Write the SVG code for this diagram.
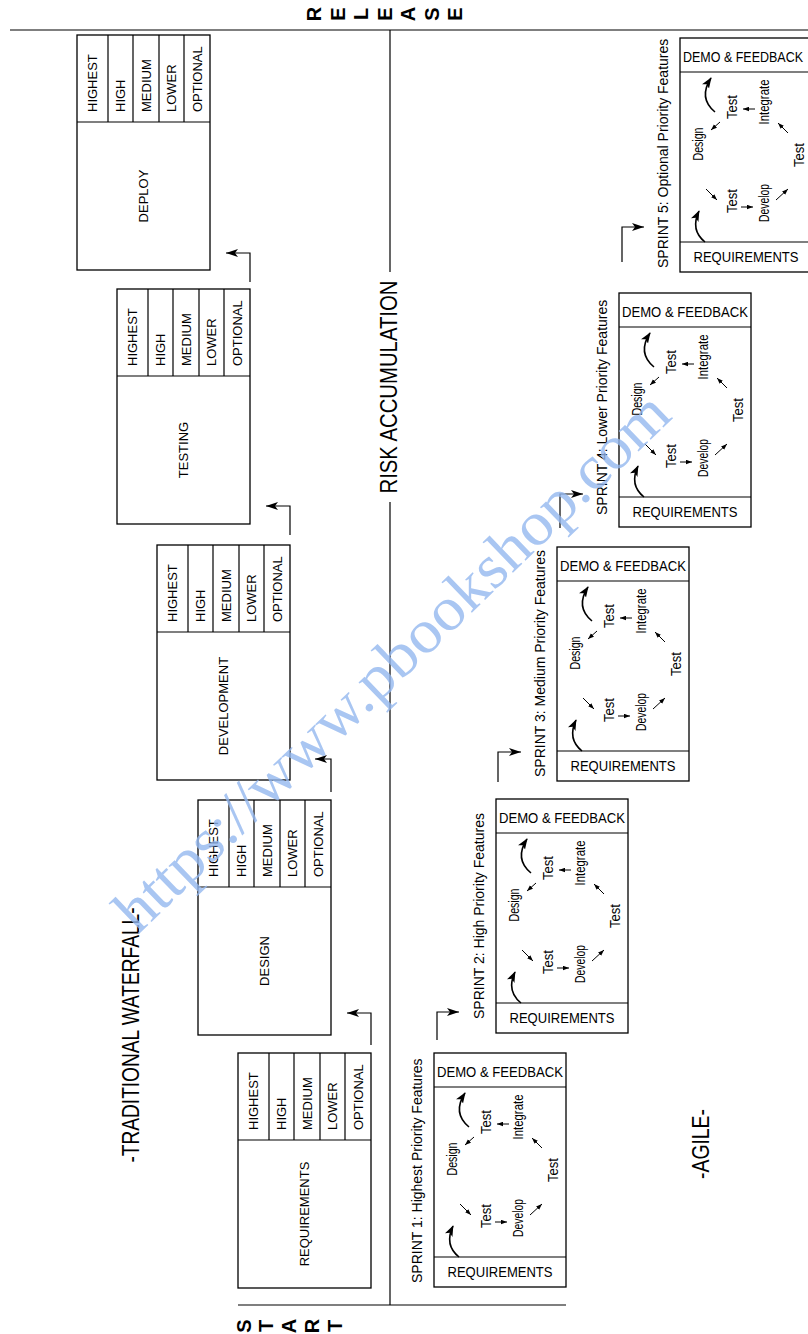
<svg xmlns="http://www.w3.org/2000/svg" width="808" height="1334" viewBox="0 0 808 1334">
<defs>
<style>
.bx{fill:#fff;stroke:#000;stroke-width:1.3}
.ln{fill:none;stroke:#000;stroke-width:1.2}
.sa{fill:none;stroke:#000;stroke-width:1}
.cv{fill:none;stroke:#000;stroke-width:1.6}
.t{font-family:"Liberation Sans",Arial,sans-serif;fill:#000}
.s13{font-size:13px}
.s14{font-size:14px}
.cy{font-size:15px}
.big{font-size:24px}
.wm{font-family:"Liberation Serif","Times New Roman",serif;font-size:62px;fill:#94b8f0;opacity:0.8}
</style>
<marker id="ah" viewBox="0 0 12 8" refX="12" refY="4" markerWidth="12" markerHeight="8" markerUnits="userSpaceOnUse" orient="auto"><path d="M0,0 L12,4 L0,8 L3,4 z" fill="#000"/></marker>
<marker id="sm" viewBox="0 0 8 6" refX="8" refY="3" markerWidth="6" markerHeight="5" markerUnits="userSpaceOnUse" orient="auto"><path d="M0,0 L8,3 L0,6 z" fill="#000"/></marker>
<marker id="cvh" viewBox="0 0 12 9" refX="11" refY="4.5" markerWidth="11" markerHeight="9" markerUnits="userSpaceOnUse" orient="auto"><path d="M0,0 L12,4.5 L0,9 L3,4.5 z" fill="#000"/></marker>
</defs>
<rect width="808" height="1334" fill="#fff"/>

<g id="frame">
<line class="ln" x1="10" y1="30" x2="808" y2="30"/>
<line class="ln" x1="238" y1="1305" x2="566" y2="1305"/>
<line class="ln" x1="390" y1="30" x2="390" y2="272"/>
<line class="ln" x1="390" y1="502" x2="390" y2="1305"/>
<text class="t big" transform="translate(397,387) rotate(-90)" text-anchor="middle" textLength="213" lengthAdjust="spacingAndGlyphs">RISK ACCUMULATION</text>
<text class="t big" transform="translate(139,1035) rotate(-90)" text-anchor="middle" textLength="255" lengthAdjust="spacingAndGlyphs">-TRADITIONAL WATERFALL-</text>
<text class="t big" transform="translate(709,1144) rotate(-90)" text-anchor="middle" textLength="70" lengthAdjust="spacingAndGlyphs">-AGILE-</text>
<g class="t" font-size="20" font-weight="bold" text-anchor="middle">
<text transform="translate(321,14) rotate(-90)">R</text>
<text transform="translate(345,14) rotate(-90)">E</text>
<text transform="translate(368,14) rotate(-90)">L</text>
<text transform="translate(392,14) rotate(-90)">E</text>
<text transform="translate(415,14) rotate(-90)">A</text>
<text transform="translate(439,14) rotate(-90)">S</text>
<text transform="translate(462,14) rotate(-90)">E</text>
<text transform="translate(251,1326) rotate(-90)">S</text>
<text transform="translate(273,1326) rotate(-90)">T</text>
<text transform="translate(296,1326) rotate(-90)">A</text>
<text transform="translate(319,1326) rotate(-90)">R</text>
<text transform="translate(342,1326) rotate(-90)">T</text>
</g>
</g>

<g id="wf-requirements" transform="translate(238,1053)">
<rect class="bx" width="133" height="235"/>
<path class="ln" d="M0,87 H133 M31,0 V87 M56,0 V87 M82,0 V87 M107,0 V87"/>
<g class="t s13">
<text transform="translate(20,77) rotate(-90)">HIGHEST</text>
<text transform="translate(48,77) rotate(-90)">HIGH</text>
<text transform="translate(73.5,77) rotate(-90)">MEDIUM</text>
<text transform="translate(99,77) rotate(-90)">LOWER</text>
<text transform="translate(124.5,77) rotate(-90)">OPTIONAL</text>
<text transform="translate(71,161) rotate(-90)" text-anchor="middle">REQUIREMENTS</text>
</g>
</g>
<g id="wf-design" transform="translate(198,800)">
<rect class="bx" width="133" height="235"/>
<path class="ln" d="M0,87 H133 M31,0 V87 M56,0 V87 M82,0 V87 M107,0 V87"/>
<g class="t s13">
<text transform="translate(20,77) rotate(-90)">HIGHEST</text>
<text transform="translate(48,77) rotate(-90)">HIGH</text>
<text transform="translate(73.5,77) rotate(-90)">MEDIUM</text>
<text transform="translate(99,77) rotate(-90)">LOWER</text>
<text transform="translate(124.5,77) rotate(-90)">OPTIONAL</text>
<text transform="translate(71,161) rotate(-90)" text-anchor="middle">DESIGN</text>
</g>
</g>
<g id="wf-development" transform="translate(157,545)">
<rect class="bx" width="133" height="235"/>
<path class="ln" d="M0,87 H133 M31,0 V87 M56,0 V87 M82,0 V87 M107,0 V87"/>
<g class="t s13">
<text transform="translate(20,77) rotate(-90)">HIGHEST</text>
<text transform="translate(48,77) rotate(-90)">HIGH</text>
<text transform="translate(73.5,77) rotate(-90)">MEDIUM</text>
<text transform="translate(99,77) rotate(-90)">LOWER</text>
<text transform="translate(124.5,77) rotate(-90)">OPTIONAL</text>
<text transform="translate(71,161) rotate(-90)" text-anchor="middle">DEVELOPMENT</text>
</g>
</g>
<g id="wf-testing" transform="translate(117,289)">
<rect class="bx" width="133" height="235"/>
<path class="ln" d="M0,87 H133 M31,0 V87 M56,0 V87 M82,0 V87 M107,0 V87"/>
<g class="t s13">
<text transform="translate(20,77) rotate(-90)">HIGHEST</text>
<text transform="translate(48,77) rotate(-90)">HIGH</text>
<text transform="translate(73.5,77) rotate(-90)">MEDIUM</text>
<text transform="translate(99,77) rotate(-90)">LOWER</text>
<text transform="translate(124.5,77) rotate(-90)">OPTIONAL</text>
<text transform="translate(71,161) rotate(-90)" text-anchor="middle">TESTING</text>
</g>
</g>
<g id="wf-deploy" transform="translate(77,35)">
<rect class="bx" width="133" height="235"/>
<path class="ln" d="M0,87 H133 M31,0 V87 M56,0 V87 M82,0 V87 M107,0 V87"/>
<g class="t s13">
<text transform="translate(20,77) rotate(-90)">HIGHEST</text>
<text transform="translate(48,77) rotate(-90)">HIGH</text>
<text transform="translate(73.5,77) rotate(-90)">MEDIUM</text>
<text transform="translate(99,77) rotate(-90)">LOWER</text>
<text transform="translate(124.5,77) rotate(-90)">OPTIONAL</text>
<text transform="translate(71,161) rotate(-90)" text-anchor="middle">DEPLOY</text>
</g>
</g>

<g id="sprint1" transform="translate(434,1053)">
<rect class="bx" width="132" height="234"/>
<path class="ln" d="M0,34 H132 M0,204 H132"/>
<g class="t s14" text-anchor="middle">
<text x="66" y="24" textLength="126" lengthAdjust="spacingAndGlyphs">DEMO &amp; FEEDBACK</text>
<text x="66" y="224" textLength="105" lengthAdjust="spacingAndGlyphs">REQUIREMENTS</text>
</g>
<g class="t cy" text-anchor="middle">
<text transform="translate(57,69) rotate(-90)" textLength="24" lengthAdjust="spacingAndGlyphs">Test</text>
<text transform="translate(89,64) rotate(-90)" textLength="45" lengthAdjust="spacingAndGlyphs">Integrate</text>
<text transform="translate(23,106) rotate(-90)" textLength="33" lengthAdjust="spacingAndGlyphs">Design</text>
<text transform="translate(124,117) rotate(-90)" textLength="24" lengthAdjust="spacingAndGlyphs">Test</text>
<text transform="translate(57,163) rotate(-90)" textLength="24" lengthAdjust="spacingAndGlyphs">Test</text>
<text transform="translate(89,165) rotate(-90)" textLength="38" lengthAdjust="spacingAndGlyphs">Develop</text>
</g>
<g class="sa" marker-end="url(#sm)">
<path d="M40,84 L31,92"/><path d="M75,71 L63,71"/><path d="M108,95 L98,85"/><path d="M96,162 L108,151"/><path d="M61,169 L73,169"/><path d="M26,151 L37,162"/>
</g>
<g class="cv" marker-end="url(#cvh)">
<path d="M35,74 Q18,60 31,40"/><path d="M25,204 Q10,192 19,173"/>
</g>
<text class="t s14" transform="translate(-12,230) rotate(-90)">SPRINT 1: Highest Priority Features</text>
</g>

<g id="sprint2" transform="translate(496,799)">
<rect class="bx" width="132" height="234"/>
<path class="ln" d="M0,34 H132 M0,204 H132"/>
<g class="t s14" text-anchor="middle">
<text x="66" y="24" textLength="126" lengthAdjust="spacingAndGlyphs">DEMO &amp; FEEDBACK</text>
<text x="66" y="224" textLength="105" lengthAdjust="spacingAndGlyphs">REQUIREMENTS</text>
</g>
<g class="t cy" text-anchor="middle">
<text transform="translate(57,69) rotate(-90)" textLength="24" lengthAdjust="spacingAndGlyphs">Test</text>
<text transform="translate(89,64) rotate(-90)" textLength="45" lengthAdjust="spacingAndGlyphs">Integrate</text>
<text transform="translate(23,106) rotate(-90)" textLength="33" lengthAdjust="spacingAndGlyphs">Design</text>
<text transform="translate(124,117) rotate(-90)" textLength="24" lengthAdjust="spacingAndGlyphs">Test</text>
<text transform="translate(57,163) rotate(-90)" textLength="24" lengthAdjust="spacingAndGlyphs">Test</text>
<text transform="translate(89,165) rotate(-90)" textLength="38" lengthAdjust="spacingAndGlyphs">Develop</text>
</g>
<g class="sa" marker-end="url(#sm)">
<path d="M40,84 L31,92"/><path d="M75,71 L63,71"/><path d="M108,95 L98,85"/><path d="M96,162 L108,151"/><path d="M61,169 L73,169"/><path d="M26,151 L37,162"/>
</g>
<g class="cv" marker-end="url(#cvh)">
<path d="M35,74 Q18,60 31,40"/><path d="M25,204 Q10,192 19,173"/>
</g>
<text class="t s14" transform="translate(-12,220) rotate(-90)">SPRINT 2: High Priority Features</text>
</g>

<g id="sprint3" transform="translate(557,547)">
<rect class="bx" width="132" height="234"/>
<path class="ln" d="M0,34 H132 M0,204 H132"/>
<g class="t s14" text-anchor="middle">
<text x="66" y="24" textLength="126" lengthAdjust="spacingAndGlyphs">DEMO &amp; FEEDBACK</text>
<text x="66" y="224" textLength="105" lengthAdjust="spacingAndGlyphs">REQUIREMENTS</text>
</g>
<g class="t cy" text-anchor="middle">
<text transform="translate(57,69) rotate(-90)" textLength="24" lengthAdjust="spacingAndGlyphs">Test</text>
<text transform="translate(89,64) rotate(-90)" textLength="45" lengthAdjust="spacingAndGlyphs">Integrate</text>
<text transform="translate(23,106) rotate(-90)" textLength="33" lengthAdjust="spacingAndGlyphs">Design</text>
<text transform="translate(124,117) rotate(-90)" textLength="24" lengthAdjust="spacingAndGlyphs">Test</text>
<text transform="translate(57,163) rotate(-90)" textLength="24" lengthAdjust="spacingAndGlyphs">Test</text>
<text transform="translate(89,165) rotate(-90)" textLength="38" lengthAdjust="spacingAndGlyphs">Develop</text>
</g>
<g class="sa" marker-end="url(#sm)">
<path d="M40,84 L31,92"/><path d="M75,71 L63,71"/><path d="M108,95 L98,85"/><path d="M96,162 L108,151"/><path d="M61,169 L73,169"/><path d="M26,151 L37,162"/>
</g>
<g class="cv" marker-end="url(#cvh)">
<path d="M35,74 Q18,60 31,40"/><path d="M25,204 Q10,192 19,173"/>
</g>
<text class="t s14" transform="translate(-12,230) rotate(-90)">SPRINT 3: Medium Priority Features</text>
</g>

<g id="sprint4" transform="translate(619,293)">
<rect class="bx" width="132" height="234"/>
<path class="ln" d="M0,34 H132 M0,204 H132"/>
<g class="t s14" text-anchor="middle">
<text x="66" y="24" textLength="126" lengthAdjust="spacingAndGlyphs">DEMO &amp; FEEDBACK</text>
<text x="66" y="224" textLength="105" lengthAdjust="spacingAndGlyphs">REQUIREMENTS</text>
</g>
<g class="t cy" text-anchor="middle">
<text transform="translate(57,69) rotate(-90)" textLength="24" lengthAdjust="spacingAndGlyphs">Test</text>
<text transform="translate(89,64) rotate(-90)" textLength="45" lengthAdjust="spacingAndGlyphs">Integrate</text>
<text transform="translate(23,106) rotate(-90)" textLength="33" lengthAdjust="spacingAndGlyphs">Design</text>
<text transform="translate(124,117) rotate(-90)" textLength="24" lengthAdjust="spacingAndGlyphs">Test</text>
<text transform="translate(57,163) rotate(-90)" textLength="24" lengthAdjust="spacingAndGlyphs">Test</text>
<text transform="translate(89,165) rotate(-90)" textLength="38" lengthAdjust="spacingAndGlyphs">Develop</text>
</g>
<g class="sa" marker-end="url(#sm)">
<path d="M40,84 L31,92"/><path d="M75,71 L63,71"/><path d="M108,95 L98,85"/><path d="M96,162 L108,151"/><path d="M61,169 L73,169"/><path d="M26,151 L37,162"/>
</g>
<g class="cv" marker-end="url(#cvh)">
<path d="M35,74 Q18,60 31,40"/><path d="M25,204 Q10,192 19,173"/>
</g>
<text class="t s14" transform="translate(-12,222) rotate(-90)">SPRINT 4: Lower Priority Features</text>
</g>

<g id="sprint5" transform="translate(680,38)">
<rect class="bx" width="132" height="234"/>
<path class="ln" d="M0,34 H132 M0,204 H132"/>
<g class="t s14" text-anchor="middle">
<text x="63" y="24" textLength="120" lengthAdjust="spacingAndGlyphs">DEMO &amp; FEEDBACK</text>
<text x="66" y="224" textLength="105" lengthAdjust="spacingAndGlyphs">REQUIREMENTS</text>
</g>
<g class="t cy" text-anchor="middle">
<text transform="translate(57,69) rotate(-90)" textLength="24" lengthAdjust="spacingAndGlyphs">Test</text>
<text transform="translate(89,64) rotate(-90)" textLength="45" lengthAdjust="spacingAndGlyphs">Integrate</text>
<text transform="translate(23,106) rotate(-90)" textLength="33" lengthAdjust="spacingAndGlyphs">Design</text>
<text transform="translate(124,117) rotate(-90)" textLength="24" lengthAdjust="spacingAndGlyphs">Test</text>
<text transform="translate(57,163) rotate(-90)" textLength="24" lengthAdjust="spacingAndGlyphs">Test</text>
<text transform="translate(89,165) rotate(-90)" textLength="38" lengthAdjust="spacingAndGlyphs">Develop</text>
</g>
<g class="sa" marker-end="url(#sm)">
<path d="M40,84 L31,92"/><path d="M75,71 L63,71"/><path d="M108,95 L98,85"/><path d="M96,162 L108,151"/><path d="M61,169 L73,169"/><path d="M26,151 L37,162"/>
</g>
<g class="cv" marker-end="url(#cvh)">
<path d="M35,74 Q18,60 31,40"/><path d="M25,204 Q10,192 19,173"/>
</g>
<text class="t s14" transform="translate(-12,230) rotate(-90)">SPRINT 5: Optional Priority Features</text>
</g>

<g id="connectors" class="ln" marker-end="url(#ah)">
<path d="M371,1045 V1013 H347"/>
<path d="M331,792 V759 H315"/>
<path d="M290,535 V506 H266"/>
<path d="M250,282 V253 H226"/>
<path d="M437,1040 V1012 H459"/>
<path d="M498,782 V752 H521"/>
<path d="M560,528 V494 H583"/>
<path d="M622,262 V227 H644"/>
</g>

<text class="wm" transform="translate(138,935) rotate(-44)" textLength="745" lengthAdjust="spacingAndGlyphs">https://www.pbookshop.com</text>
</svg>
